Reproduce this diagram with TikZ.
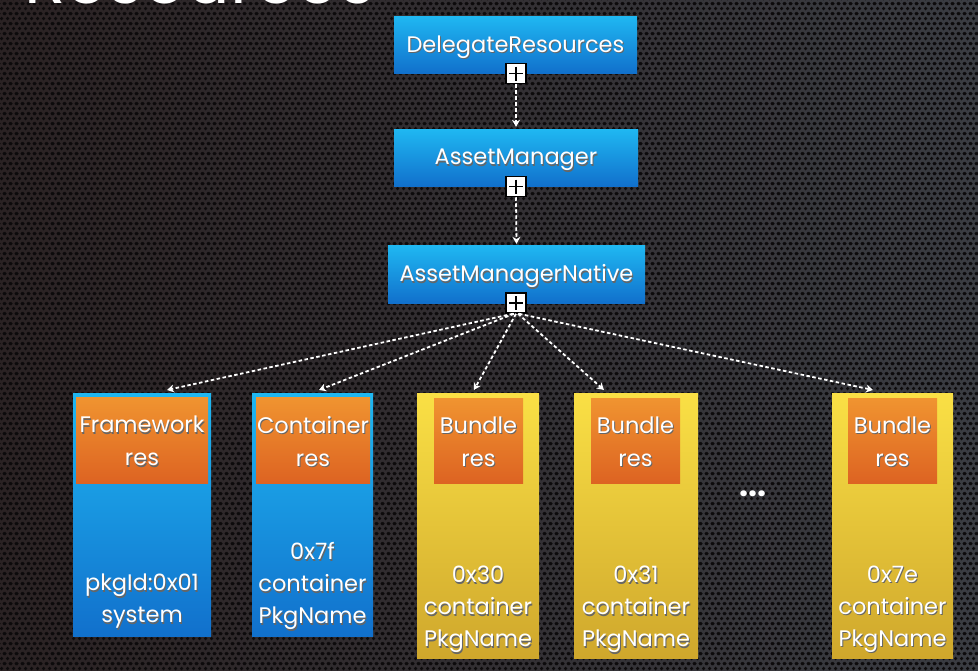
\documentclass[tikz,border=0pt]{standalone}
\usepackage{fontspec}
\setmainfont{Poppins}
\usetikzlibrary{arrows.meta,patterns,calc}
\pgfdeclarepatternformonly{holes}{\pgfpoint{0pt}{0pt}}{\pgfpoint{6pt}{10.4pt}}{\pgfpoint{6pt}{10.4pt}}{%
 \pgfpathcircle{\pgfpoint{3pt}{2.6pt}}{2pt}%
 \pgfpathcircle{\pgfpoint{0pt}{7.8pt}}{2pt}%
 \pgfpathcircle{\pgfpoint{6pt}{7.8pt}}{2pt}%
 \pgfusepath{fill}}
\definecolor{blueT}{HTML}{1FB8F2}
\definecolor{blueB}{HTML}{1170CC}
\definecolor{orT}{HTML}{F09430}
\definecolor{orB}{HTML}{DD6322}
\definecolor{yeT}{HTML}{FAE045}
\definecolor{yeB}{HTML}{CFA72C}
\definecolor{bgL}{HTML}{2A2223}
\definecolor{bgR}{HTML}{3A3C42}
\definecolor{hole}{HTML}{0C0A0B}
\newcommand\shd[1]{\leavevmode\rlap{\hspace{1pt}\raisebox{-1.5pt}{\textcolor{black!60}{#1}}}#1}
\newcommand\dn[2]{\raisebox{-#1}[\height][\depth]{\shd{#2}}}
\newcommand\plusmark[1]{\draw[line width=1.4pt,black] ($(#1.center)+(-7,0)$) -- ($(#1.center)+(7,0)$) ($(#1.center)+(0,-7)$) -- ($(#1.center)+(0,7)$);}
\begin{document}
\begin{tikzpicture}[x=1pt,y=-1pt,
  bluebox/.style={rectangle, inner sep=0pt, top color=blueT, bottom color=blueB, draw=none, text=white,
     font=\fontsize{22.5}{26}\selectfont},
  yelbox/.style={rectangle, inner sep=0pt, top color=yeT, bottom color=yeB, draw=none},
  orbox/.style={rectangle, inner sep=0pt, top color=orT, bottom color=orB, draw=none, text=white, align=center,
     font=\fontsize{22.5}{33}\selectfont},
  lbl/.style={text=white, align=center, inner sep=0pt, font=\fontsize{22.5}{32}\selectfont},
  plusbox/.style={rectangle, draw=black, line width=1.5pt, fill=white, minimum size=20pt, inner sep=0pt},
  conn/.style={draw=white, dash pattern=on 3.5pt off 2.5pt, line width=1.8pt, -{Stealth[width=8pt,length=7pt]}}]
\useasboundingbox (0,0) rectangle (978,670);
% background
\shade[left color=bgL, right color=bgR] (0,0) rectangle (978,670);
\fill[pattern=holes, pattern color=hole] (0,0) rectangle (978,670);
% title (cut off at the top)
\node[anchor=base west, inner sep=0pt, text=white, font=\fontsize{68}{70}\selectfont] (title) at (24,3) {Resources};
% top chain
\node[bluebox, minimum width=243pt, minimum height=57pt] (dr) at (515.5,44.5) {\dn{3pt}{DelegateResources}};
\node[bluebox, minimum width=244pt, minimum height=57pt] (am) at (516,157.5) {\dn{3pt}{AssetManager}};
\node[bluebox, minimum width=257pt, minimum height=58pt] (amn) at (516.5,274) {\dn{3pt}{AssetManagerNative}};
% columns
\node[bluebox, minimum width=138pt, minimum height=243pt] (fw) at (142,514.5) {};
\node[bluebox, minimum width=121pt, minimum height=243pt] (ct) at (312.5,514.5) {};
\node[yelbox, minimum width=122pt, minimum height=265pt] (b1) at (478,525.5) {};
\node[yelbox, minimum width=124pt, minimum height=265pt] (b2) at (636,525.5) {};
\node[yelbox, minimum width=121pt, minimum height=265pt] (b3) at (892.5,525.5) {};
\node[orbox, minimum width=132pt, minimum height=86pt] (fwr) at (142,440) {\dn{2pt}{Framework}\\\dn{2pt}{res}};
\node[orbox, minimum width=114pt, minimum height=86pt] (ctr) at (313,440) {\dn{2pt}{Container}\\\dn{2pt}{res}};
\node[orbox, minimum width=89pt, minimum height=85pt] (b1r) at (478.5,440.5) {\dn{2pt}{Bundle}\\\dn{2pt}{res}};
\node[orbox, minimum width=89pt, minimum height=85pt] (b2r) at (635.5,440.5) {\dn{2pt}{Bundle}\\\dn{2pt}{res}};
\node[orbox, minimum width=89pt, minimum height=85pt] (b3r) at (892.5,440.5) {\dn{2pt}{Bundle}\\\dn{2pt}{res}};
\node[lbl] (fwt) at (142,602) {\shd{pkgId:0x01}\\\shd{system}};
\node[lbl] (ctt) at (312.5,587) {\shd{0x7f}\\\shd{container}\\\shd{PkgName}};
\node[lbl] (b1t) at (478,610) {\shd{0x30}\\\shd{container}\\\shd{PkgName}};
\node[lbl] (b2t) at (636,610) {\shd{0x31}\\\shd{container}\\\shd{PkgName}};
\node[lbl] (b3t) at (892.5,610) {\shd{0x7e}\\\shd{container}\\\shd{PkgName}};
\node[text=white, inner sep=0pt, font=\fontsize{32}{34}\selectfont\bfseries] (dots) at (753,494) {...};
% plus boxes
\node[plusbox] (p1) at (516,73.5) {};
\node[plusbox] (p2) at (516,186.5) {};
\node[plusbox] (p3) at (516,303) {};
\plusmark{p1}\plusmark{p2}\plusmark{p3}
% arrow targets
\coordinate (tfw) at (167,390);
\coordinate (tct) at (319,390);
\coordinate (tb1) at (474,390);
\coordinate (tb2) at (604,390);
\coordinate (tb3) at (873,390);
% connectors
\draw[conn, shorten >=2pt] (p1.south) -- (am.north);
\draw[conn, shorten >=1pt] (p2.south) -- (amn.north);
\draw[conn] ([xshift=-3pt]p3.south) -- (tfw);
\draw[conn] ([xshift=-2pt]p3.south) -- (tct);
\draw[conn] (p3.south) -- (tb1);
\draw[conn] ([xshift=2pt]p3.south) -- (tb2);
\draw[conn] ([xshift=3pt]p3.south) -- (tb3);
\end{tikzpicture}
\end{document}
